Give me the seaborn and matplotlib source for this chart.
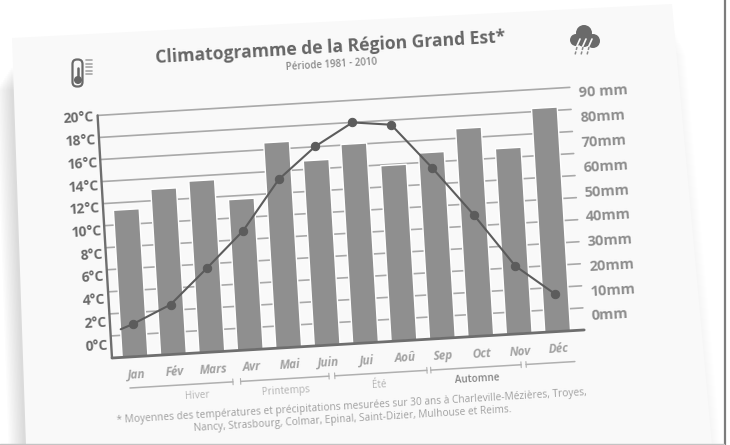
import numpy as np
import pandas as pd
import matplotlib
matplotlib.use("Agg")
import matplotlib.pyplot as plt
from matplotlib.patches import Polygon, Circle, FancyBboxPatch
from matplotlib.lines import Line2D
from matplotlib.transforms import Affine2D, blended_transform_factory
import seaborn as sns

months = ["Jan", "Fév", "Mars", "Avr", "Mai", "Juin", "Jui", "Aoû", "Sep", "Oct", "Nov", "Déc"]
rain_mm = [53.5, 61, 63.4, 55, 77, 68.8, 74.5, 65, 69.2, 78.1, 69.1, 84.4]
temp_c = [1.6, 3.1, 6.1, 9.2, 13.5, 16.2, 18.1, 17.7, 13.7, 9.4, 4.7, 2.0]
lead_in_x = [-0.33, 0]
lead_in_temp = [1.2, 1.6]
temp_ticks = list(range(0, 21, 2))
temp_labels = [f"{t}°C" for t in temp_ticks]
rain_ticks = list(range(0, 91, 10))
rain_labels = [f"{r}mm" for r in rain_ticks[:-1]] + ["90 mm"]
seasons = ["Hiver", "Printemps", "Été", "Automne"]
season_label_x = [1.56, 3.85, 6.3, 8.85]
season_colors = ["#b4b4b4", "#b4b4b4", "#b4b4b4", "#858585"]
season_spans = [(-0.18, 2.5), (2.7, 5.0), (5.15, 7.55), (7.65, 10.0), (10.13, 11.4)]

W, H = 730, 445
TILT = 3.4
sns.set_theme(style="white")
plt.rcParams["font.family"] = ["Open Sans", "DejaVu Sans"]

fig = plt.figure(figsize=(W / 100, H / 100), dpi=100, facecolor="white")
px = Affine2D().scale(1, -1).translate(0, H)   # y-down pixel coordinates
rot = Affine2D().rotate_deg_around(112, H - 358, TILT)

# --- sheet of paper and its soft shadow
sheet = np.array([(12, 38), (672, 4), (712, 445), (26, 445)], float)
for i in range(1, 13):
    fig.add_artist(Polygon(sheet + (-1.3 * i, 2.0 * i + 28), closed=True, fc="#707070", ec="none",
                           alpha=0.02, transform=px, zorder=-9))
for i in range(1, 11):
    fig.add_artist(Polygon(sheet + (1.2 * i + 1, 2.5 * i + 24), closed=True, fc="#a0a0a0", ec="none",
                           alpha=0.006, transform=px, zorder=-9))
fig.add_artist(Polygon(sheet, closed=True, fc="#f9f9f9", ec="none", transform=px, zorder=-8))
fig.add_artist(Line2D([724.5, 724.5], [0, H], color="#7c7c7c", lw=1.6, transform=px, zorder=-7))
fig.add_artist(Line2D([0, 724], [443.8, 443.8], color="#c4c4c4", lw=1.0, transform=px, zorder=-7))

# --- axes
ax = fig.add_axes([112 / W, 87 / H, 473 / W, 243 / H])
sns.barplot(x=months, y=rain_mm, color="#8f8f8f", saturation=1, width=0.67, ax=ax, zorder=3)
rain_low, rain_high = -5.83, 92.0
temp_low, temp_high = -1.27, 20.04
ax.set_xlim(-0.6, 11.69)
ax.set_ylim(rain_low, rain_high)
ax.set_xticks(range(12), months)
ax.set_xlabel("")
ax.set_ylabel("")
ax.patch.set_visible(False)
for s in ax.spines.values():
    s.set_visible(False)

for p in ax.patches:
    top = p.get_y() + p.get_height()
    p.set_y(rain_low)
    p.set_height(top - rain_low)
    p.set_transform(ax.transData + rot)
    p.set_clip_on(False)

axt = ax.twinx()
sns.lineplot(x=np.arange(12), y=temp_c, color="#5c5c5c", lw=1.5, marker="o", markersize=6,
             markeredgecolor="#5c5c5c", ax=axt, zorder=5)
sns.lineplot(x=lead_in_x, y=lead_in_temp, color="#5c5c5c", lw=1.5, ax=axt, zorder=5)
axt.set_ylim(temp_low, temp_high)
axt.yaxis.tick_left()
axt.set_yticks(temp_ticks, temp_labels)
axt.tick_params(axis="y", length=0, pad=2.5, labelsize=10, labelcolor="#6a6a6a")
axt.set_ylabel("")
axt.patch.set_visible(False)
for s in axt.spines.values():
    s.set_visible(False)
for ln in axt.lines:
    ln.set_transform(axt.transData + rot)
    ln.set_clip_on(False)

ax.yaxis.tick_right()
ax.set_yticks(rain_ticks, rain_labels)
ax.tick_params(axis="y", length=0, pad=6, labelsize=10.5, labelcolor="#8e8e8e")
ax.tick_params(axis="x", length=0, pad=8, labelsize=8.5, labelcolor="#a2a2a2")

# tilt every tick label with the sheet
for tick in ax.xaxis.get_major_ticks():
    tick.label1.set_transform(tick.label1.get_transform() + rot)
    tick.label1.set(rotation=TILT, rotation_mode="anchor", fontweight="bold", fontstyle="italic")
for axis_ in (ax.yaxis, axt.yaxis):
    for tick in axis_.get_major_ticks():
        for lab in (tick.label1, tick.label2):
            lab.set_transform(lab.get_transform() + rot)
            lab.set(rotation=TILT, rotation_mode="anchor", fontweight="bold")

# gridlines and axis lines
frac = ax.transAxes + rot
for k in range(1, 12):
    ax.add_line(Line2D([0, 1], [k / 11, k / 11], transform=frac, color="#a9a9a9", lw=1.2, zorder=1, clip_on=False))
ax.add_line(Line2D([0, 0], [0, 1], transform=frac, color="#6e6e6e", lw=1.7, zorder=4, clip_on=False))
ax.add_line(Line2D([0, 1], [0, 0], transform=frac, color="#6e6e6e", lw=2.0, zorder=4, clip_on=False))

# season brackets
blend = blended_transform_factory(ax.transData, ax.transAxes) + rot
yb = -31 / 243
for a, b in season_spans:
    ax.add_line(Line2D([a, b], [yb, yb], transform=blend, color="#b0b0b0", lw=1.1, clip_on=False))
    for e in (a, b):
        if -0.18 < e < 11.4:
            ax.add_line(Line2D([e, e], [yb - 0.012, yb + 0.012], transform=blend, color="#b0b0b0", lw=0.8, clip_on=False))
for name, x, c in zip(seasons, season_label_x, season_colors):
    ax.text(x, -43 / 243, name, transform=blend, rotation=TILT, rotation_mode="anchor", ha="center", va="center",
            fontsize=7.2, color=c, fontweight="semibold" if name == "Automne" else "normal")

# texts
ax.text(0.5, 1.222, "Climatogramme de la Région Grand Est*", transform=frac, rotation=TILT, rotation_mode="anchor",
        ha="center", va="center", fontsize=12.6, fontweight="bold", color="#666666")
ax.text(0.5, 1.152, "Période 1981 - 2010", transform=frac, rotation=TILT, rotation_mode="anchor",
        ha="center", va="center", fontsize=7, color="#8a8a8a", fontweight="semibold")
ax.text(0.5, -69 / 243,
        "* Moyennes des températures et précipitations mesurées sur 30 ans à Charleville-Mézières, Troyes,\n"
        "Nancy, Strasbourg, Colmar, Epinal, Saint-Dizier, Mulhouse et Reims.",
        transform=frac, rotation=TILT, rotation_mode="anchor", ha="center", va="center", multialignment="center",
        fontsize=7.3, color="#a0a0a0", linespacing=1.3)

# thermometer icon
fig.add_artist(FancyBboxPatch((73, 60), 9, 26, boxstyle="round,pad=0.5,rounding_size=4.5", fc="none", ec="#6a6a6a",
                              lw=1.6, transform=px))
fig.add_artist(Circle((78, 80), 4.0, fc="#666666", ec="none", transform=px))
fig.add_artist(Line2D([78, 78], [68, 80], color="#666666", lw=1.8, transform=px))
for yy in (60, 63.5, 67, 70.5, 74):
    fig.add_artist(Line2D([86, 92], [yy, yy], color="#a5a5a5", lw=1.2, transform=px))

# rain-cloud icon
for c, r in (((584, 33), 8), ((576, 40), 6), ((593, 41), 7), ((584, 40), 7)):
    fig.add_artist(Circle(c, r, fc="#6a6a6a", ec="none", transform=px))
for x0 in (578, 584, 590):
    fig.add_artist(Line2D([x0 + 2, x0 - 2], [39, 48], color="#f9f9f9", lw=1.2, transform=px))
    fig.add_artist(Line2D([x0 - 1, x0 - 3], [47, 55], color="#8a8a8a", lw=1.1, ls=(0, (2, 1)), transform=px))

fig.savefig("out.png", dpi=100, facecolor="white")
